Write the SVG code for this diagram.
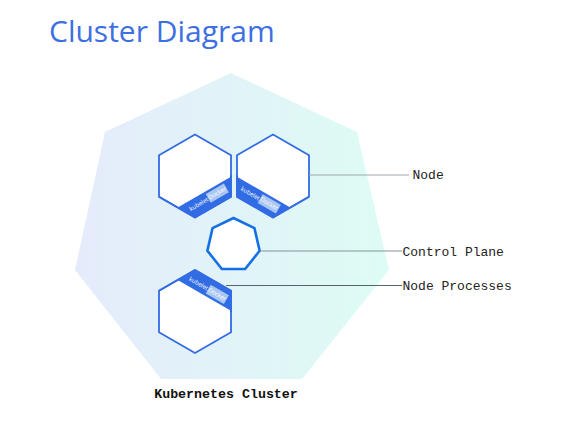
<svg xmlns="http://www.w3.org/2000/svg" width="585" height="441" viewBox="0 0 585 441">
  <defs>
    <linearGradient id="clusterGrad" gradientUnits="userSpaceOnUse" x1="75" y1="0" x2="389" y2="0">
      <stop offset="0" stop-color="#e5ebfb"/>
      <stop offset="1" stop-color="#ddfcf4"/>
    </linearGradient>
    <style>
      .title { font-family: "Open Sans", "Liberation Sans", sans-serif; font-size: 30px; fill: #3d6fe3; }
      .hex { fill: #ffffff; stroke: #326ce5; stroke-width: 1.8; stroke-linejoin: miter; }
      .band { fill: #326ce5; }
      .box { fill: #a9c6f1; }
      .tiny { font-family: "Open Sans", "Liberation Sans", sans-serif; font-size: 6px; fill: #ffffff; text-anchor: middle; }
      .cp { fill: #ffffff; stroke: #1570e6; stroke-width: 2.6; stroke-linejoin: miter; }
      .lbl { font-family: "Liberation Mono", "Courier New", monospace; font-size: 13px; fill: #222222; }
      .clbl { font-family: "Liberation Mono", "Courier New", monospace; font-size: 13.3px; font-weight: bold; fill: #111111; text-anchor: middle; }
      .conn { fill: none; stroke-width: 1; }
    </style>
  </defs>

  <rect width="585" height="441" fill="#ffffff"/>

  <text class="title" x="49" y="41.5">Cluster Diagram</text>

  <g id="cluster">
    <polygon points="231,73 357,132 389,270 302,379 161,379 75,270 105,132" fill="url(#clusterGrad)"/>
    <text class="clbl" x="226" y="397.5">Kubernetes Cluster</text>
  </g>

  <g id="node-1">
    <polygon class="hex" points="195,134.5 231,155.25 231,196.75 195,217.5 159,196.75 159,155.25"/>
    <g transform="translate(195,217.5) rotate(-30)">
      <polygon class="band" points="-10,-17.3 0,0 41.5,0 51.5,-17.3"/>
      <rect class="box" x="21" y="-15" width="21" height="10"/>
      <text class="tiny" x="10" y="-7.5">kubelet</text>
      <text class="tiny" x="31.5" y="-8">Docker</text>
    </g>
    <polyline fill="none" stroke="#326ce5" stroke-width="1.8" points="159,196.75 195,217.5 231,196.75 231,175"/>
  </g>

  <g id="node-2">
    <polygon class="hex" points="273,134.5 309,155.25 309,196.75 273,217.5 237,196.75 237,155.25"/>
    <g transform="translate(237,196.75) rotate(30)">
      <polygon class="band" points="-10,-17.3 0,0 41.5,0 51.5,-17.3"/>
      <rect class="box" x="21" y="-15" width="21" height="10"/>
      <text class="tiny" x="10" y="-7.5">kubelet</text>
      <text class="tiny" x="31.5" y="-8">Docker</text>
    </g>
    <polyline fill="none" stroke="#326ce5" stroke-width="1.8" points="237,175 237,196.75 273,217.5 309,196.75"/>
  </g>

  <g id="node-3">
    <polygon class="hex" points="195,270 231,290.75 231,332.25 195,353 159,332.25 159,290.75"/>
    <g transform="translate(195,270) rotate(30)">
      <polygon class="band" points="0,0 41.5,0 51.5,17.3 -10,17.3"/>
      <rect class="box" x="21" y="5" width="21" height="10"/>
      <text class="tiny" x="10" y="12">kubelet</text>
      <text class="tiny" x="31.5" y="12">Docker</text>
    </g>
    <polyline fill="none" stroke="#326ce5" stroke-width="1.8" points="159,290.75 195,270 231,290.75 231,312"/>
  </g>

  <g id="control-plane">
    <polygon class="cp" points="233.5,218 254.45,228.09 259.63,250.76 245.13,268.95 221.87,268.95 207.37,250.76 212.55,228.09"/>
  </g>

  <g id="connectors">
    <line class="conn" x1="309" y1="175" x2="409" y2="175" stroke="#a0a6ab"/>
    <line class="conn" x1="260" y1="251" x2="402" y2="251" stroke="#87919a"/>
    <line class="conn" x1="226" y1="285.5" x2="402" y2="285.5" stroke="#58626a"/>
  </g>

  <g id="labels">
    <text class="lbl" x="412.5" y="179">Node</text>
    <text class="lbl" x="402.5" y="255.5">Control Plane</text>
    <text class="lbl" x="402.5" y="289.5">Node Processes</text>
  </g>
</svg>
